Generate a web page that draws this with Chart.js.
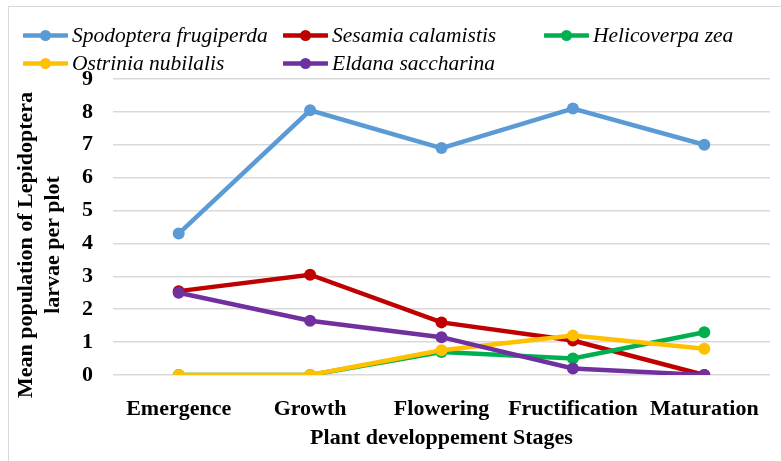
<!DOCTYPE html>
<html>
<head>
<meta charset="utf-8">
<script src="https://cdn.jsdelivr.net/npm/chart.js@4/dist/chart.umd.min.js"></script>
<style>
  html, body { margin: 0; padding: 0; background: #fff; }
  #wrap { position: relative; width: 781px; height: 461px; overflow: hidden; }
  #frame { position: absolute; left: 8px; top: 6px; width: 780px; height: 460px; border: 1.5px solid #d9d9d9; box-sizing: border-box; }
  canvas { position: absolute; left: 0; top: 0; }
  .leg { position: absolute; font: italic 21.5px "Liberation Serif", "Times New Roman", serif; color: #000; white-space: nowrap; line-height: 24px; }
  .leg svg { vertical-align: middle; margin-right: 4px; position: relative; top: -2px; }
  .ytitle { position: absolute; font: bold 22px "Liberation Serif", "Times New Roman", serif; color: #000; white-space: nowrap;
            transform: translate(-50%, -50%) rotate(-90deg); line-height: 26px; }
</style>
</head>
<body>
<div id="wrap">
  <div id="frame"></div>
  <canvas id="chart" width="781" height="461"></canvas>
  <div class="ytitle" style="left:25px; top:245px;">Mean population of Lepidoptera</div>
  <div class="ytitle" style="left:52px; top:245px;">larvae per plot</div>
</div>
<script>
const stages = ['Emergence', 'Growth', 'Flowering', 'Fructification', 'Maturation'];
const spodoptera = [4.3, 8.05, 6.9, 8.1, 7.0];
const sesamia = [2.55, 3.05, 1.6, 1.05, 0];
const helicoverpa = [0, 0, 0.7, 0.5, 1.3];
const ostrinia = [0, 0, 0.75, 1.2, 0.8];
const eldana = [2.5, 1.65, 1.15, 0.2, 0];

const seriesNames = ['Spodoptera frugiperda', 'Sesamia calamistis', 'Helicoverpa zea', 'Ostrinia nubilalis', 'Eldana saccharina'];
const seriesColors = ['#5B9BD5', '#C00000', '#00B050', '#FFC000', '#7030A0'];
const seriesData = [spodoptera, sesamia, helicoverpa, ostrinia, eldana];

// legend laid out like the Excel one: 3 columns, 2 rows
const legendPos = [[23, 23], [283, 23], [544, 23], [23, 51], [283, 51]];
const wrap = document.getElementById('wrap');
seriesNames.forEach((name, i) => {
    const el = document.createElement('div');
    el.className = 'leg';
    el.style.left = legendPos[i][0] + 'px';
    el.style.top = legendPos[i][1] + 'px';
    const c = seriesColors[i];
    el.innerHTML = `<svg width="45" height="13"><line x1="1" y1="6.5" x2="44" y2="6.5" stroke="${c}" stroke-width="4.5" stroke-linecap="round"/><circle cx="22.5" cy="6.5" r="5.5" fill="${c}"/></svg>${name}`;
    wrap.appendChild(el);
});

const ctx = document.getElementById('chart').getContext('2d');
new Chart(ctx, {
    type: 'line',
    data: {
        labels: stages,
        datasets: seriesData.map((d, i) => ({
            label: seriesNames[i],
            data: d,
            borderColor: seriesColors[i],
            backgroundColor: seriesColors[i],
            borderWidth: 4.5,
            pointRadius: 6,
            pointBorderWidth: 0,
            pointBackgroundColor: seriesColors[i],
            tension: 0,
            order: seriesNames.length - i // later series drawn on top, like Excel
        }))
    },
    options: {
        responsive: false,
        animation: false,
        events: [],
        layout: { padding: { top: 79, right: 11, bottom: 0, left: 0 } },
        plugins: { legend: { display: false }, tooltip: { enabled: false } },
        scales: {
            x: {
                offset: true,
                grid: { display: false, offset: true },
                border: { display: false },
                ticks: { color: '#000', padding: 13, autoSkip: false, maxRotation: 0, font: { family: '"Liberation Serif", serif', size: 22, weight: 'bold' } },
                title: { display: true, text: 'Plant developpement Stages', color: '#000', padding: { top: 0, bottom: 10 },
                         font: { family: '"Liberation Serif", serif', size: 22, weight: 'bold', lineHeight: 1.18 } },
                afterFit: s => { s.height = 86; }
            },
            y: {
                min: 0, max: 9,
                grid: { color: '#d9d9d9', lineWidth: 1.5, drawTicks: false },
                border: { display: false },
                ticks: { stepSize: 1, color: '#000', padding: 20, font: { family: '"Liberation Serif", serif', size: 22, weight: 'bold' } },
                afterFit: s => { s.width = 113; }
            }
        }
    }
});
</script>
</body>
</html>
